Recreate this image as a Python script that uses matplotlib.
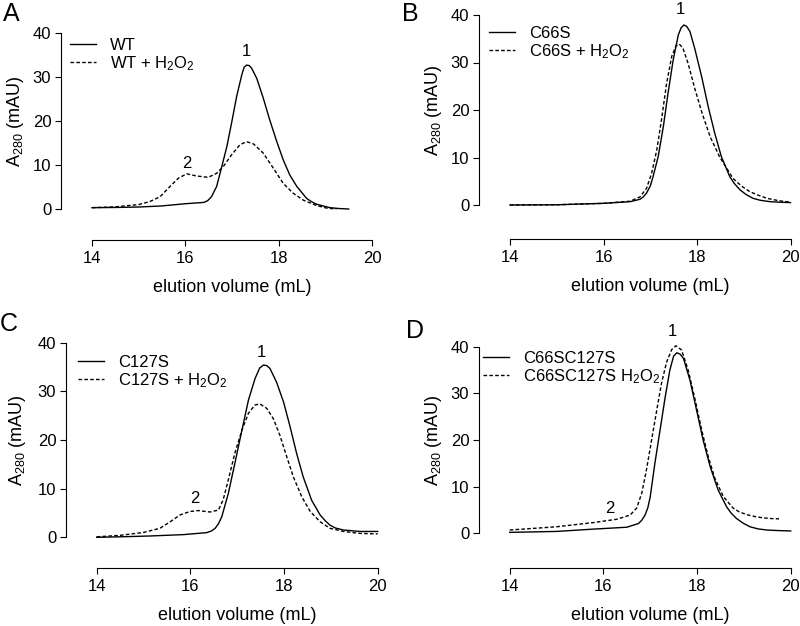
import numpy as np
import matplotlib
matplotlib.use('Agg')
import matplotlib.pyplot as plt
from matplotlib.transforms import blended_transform_factory

plt.rcParams['font.family'] = ['Liberation Sans', 'DejaVu Sans']
plt.rcParams['mathtext.fontset'] = 'custom'
plt.rcParams['mathtext.rm'] = 'Liberation Sans'
plt.rcParams['mathtext.it'] = 'Liberation Sans:italic'

# ---- data (elution volume mL, A280 mAU) ----
a_solid_x = [14.0, 14.5, 15.0, 15.5, 16.0, 16.4, 16.48, 16.56, 16.67, 16.78, 16.89, 16.99, 17.1, 17.21,
             17.26, 17.31, 17.37, 17.42, 17.53, 17.67, 17.81, 17.96, 18.1, 18.24, 18.39, 18.6,
             18.7, 18.81, 18.95, 19.1, 19.3, 19.5]
a_solid_y = [0.3, 0.35, 0.45, 0.7, 1.2, 1.5, 1.9, 2.8, 5.1, 9.6, 14.2, 19.5, 25.6, 30.5,
             32.2, 32.7, 32.6, 32.0, 29.7, 25.2, 20.2, 15.3, 11.1, 7.7, 5.1, 2.4,
             1.7, 1.1, 0.7, 0.3, 0.1, 0.0]
a_dash_x = [14.0, 14.5, 15.0, 15.24, 15.46, 15.67, 15.85, 16.03, 16.24, 16.49, 16.67, 16.81, 16.99,
            17.17, 17.31, 17.46, 17.67, 17.89, 18.1, 18.31, 18.53, 18.81, 19.03, 19.24]
a_dash_y = [0.3, 0.5, 1.0, 1.7, 2.8, 5.1, 7.0, 8.0, 7.5, 7.2, 8.1, 9.6, 12.3,
            14.6, 15.3, 14.8, 12.7, 9.2, 5.8, 3.6, 2.0, 0.8, 0.2, 0.0]

b_solid_x = [14.0, 15.0, 16.0, 16.57, 16.78, 16.85, 16.92, 17.0, 17.06, 17.17, 17.28, 17.38, 17.49,
             17.6, 17.66, 17.72, 17.78, 17.85, 17.95, 18.1, 18.24, 18.38, 18.52, 18.7, 18.8,
             18.92, 19.05, 19.2, 19.35, 19.56, 19.75, 20.0]
b_solid_y = [0.0, 0.05, 0.35, 0.7, 1.2, 1.7, 2.5, 4.0, 5.95, 10.2, 16.5, 23.5, 30.5,
             35.8, 37.3, 37.9, 37.6, 36.5, 33.0, 27.0, 20.7, 15.1, 10.2, 6.0, 4.5,
             3.2, 2.2, 1.4, 1.0, 0.7, 0.6, 0.5]
b_dash_x = [14.0, 15.0, 16.0, 16.57, 16.78, 16.92, 17.03, 17.14, 17.24, 17.35, 17.46, 17.55, 17.62,
            17.7, 17.81, 17.95, 18.11, 18.28, 18.48, 18.77, 18.95, 19.13, 19.3, 19.5, 19.75, 20.0]
b_dash_y = [0.0, 0.05, 0.35, 0.8, 1.7, 3.5, 6.7, 11.6, 17.9, 25.6, 31.3, 33.5, 33.9,
            33.0, 29.8, 24.6, 19.3, 14.4, 10.2, 5.6, 4.0, 2.8, 2.1, 1.4, 0.9, 0.6]

c_solid_x = [14.0, 14.5, 15.14, 15.85, 16.35, 16.45, 16.53, 16.6, 16.67, 16.81, 16.95, 17.1, 17.24,
             17.38, 17.48, 17.56, 17.63, 17.7, 17.84, 17.99, 18.13, 18.27, 18.41, 18.59, 18.77,
             18.88, 18.98, 19.1, 19.27, 19.62, 20.0]
c_solid_y = [0.0, 0.1, 0.27, 0.55, 0.96, 1.3, 1.85, 2.8, 4.2, 9.0, 15.2, 22.0, 28.2,
             32.6, 34.8, 35.4, 35.3, 34.7, 31.9, 27.8, 22.7, 17.2, 12.4, 7.6, 4.6,
             3.4, 2.5, 1.9, 1.5, 1.2, 1.2]
c_dash_x = [14.0, 14.5, 15.0, 15.35, 15.57, 15.78, 15.99, 16.17, 16.42, 16.6, 16.7, 16.81, 16.95,
            17.1, 17.24, 17.38, 17.49, 17.63, 17.77, 17.91, 18.06, 18.2, 18.38, 18.56, 18.77,
            18.98, 19.27, 19.62, 20.0]
c_dash_y = [0.1, 0.4, 1.0, 1.85, 3.2, 4.6, 5.3, 5.5, 5.2, 5.6, 7.7, 11.8, 17.3,
            22.0, 25.5, 27.2, 27.4, 26.5, 24.4, 21.0, 16.5, 12.4, 8.3, 5.3, 3.2,
            1.85, 1.2, 0.8, 0.7]

d_solid_x = [14.0, 15.0, 15.79, 16.5, 16.75, 16.82, 16.89, 16.95, 17.0, 17.1, 17.21, 17.32, 17.42,
             17.5, 17.57, 17.64, 17.71, 17.85, 17.99, 18.13, 18.28, 18.45, 18.63, 18.73, 18.84,
             18.98, 19.13, 19.3, 19.49, 19.7, 20.0]
d_solid_y = [0.2, 0.4, 0.9, 1.3, 2.1, 2.8, 3.9, 5.5, 7.8, 15.0, 22.1, 29.2, 35.0,
             38.0, 38.7, 38.4, 37.5, 32.8, 26.4, 20.0, 14.3, 9.3, 5.7, 4.3, 3.2,
             2.2, 1.4, 0.95, 0.7, 0.6, 0.5]
d_dash_x = [14.0, 15.0, 15.79, 16.28, 16.57, 16.71, 16.82, 16.92, 17.03, 17.14, 17.24, 17.35, 17.46,
            17.55, 17.67, 17.81, 17.96, 18.1, 18.24, 18.38, 18.56, 18.77, 18.9, 19.06, 19.25,
            19.42, 19.6, 19.75]
d_dash_y = [0.7, 1.4, 2.3, 3.0, 3.9, 5.4, 8.6, 13.6, 20.0, 26.4, 32.1, 36.7, 39.4,
            40.2, 39.3, 35.0, 28.6, 22.1, 16.4, 11.8, 7.9, 5.4, 4.6, 4.0, 3.55,
            3.3, 3.15, 3.1]

panels = ['A', 'B', 'C', 'D']
legend_labels = [
    ['WT', 'WT + H$\\mathregular{_2}$O$\\mathregular{_2}$'],
    ['C66S', 'C66S + H$\\mathregular{_2}$O$\\mathregular{_2}$'],
    ['C127S', 'C127S + H$\\mathregular{_2}$O$\\mathregular{_2}$'],
    ['C66SC127S', 'C66SC127S H$\\mathregular{_2}$O$\\mathregular{_2}$'],
]
series = [(a_solid_x, a_solid_y, a_dash_x, a_dash_y),
          (b_solid_x, b_solid_y, b_dash_x, b_dash_y),
          (c_solid_x, c_solid_y, c_dash_x, c_dash_y),
          (d_solid_x, d_solid_y, d_dash_x, d_dash_y)]
peak_labels = [[('1', 17.31, 35.7), ('2', 16.03, 10.4)],
               [('1', 17.65, 41.2)],
               [('1', 17.52, 37.9), ('2', 16.1, 8.0)],
               [('1', 17.48, 43.2), ('2', 16.13, 5.35)]]

# layout in pixels: y-spine x, x=14 px, x=20 px, y=40 px, y=0 px, x-spine y
boxes = [(61, 92, 372, 33, 209, 240),
         (479, 510, 790.5, 15, 205, 239),
         (66, 96.7, 377.7, 342.7, 537.3, 568),
         (479, 509.7, 790.7, 346.7, 533.3, 567.7)]
leg_anchor = [(70, 38), (489, 26), (78, 355), (483, 351)]
letter_pos = [(3, 2), (402, 2), (0, 312), (406, 319)]
ylabel_off = [35, 35, 38, 35]

W, H = 800, 626
fig = plt.figure(figsize=(W / 100, H / 100), dpi=100)

for i in range(4):
    left, x14, x20, y40, y0, bot = boxes[i]
    ax = fig.add_axes([left / W, 1 - bot / H, (x20 - left) / W, (bot - y40) / H])
    sx, sy, dx, dy = series[i]
    ax.plot(sx, sy, color='black', lw=1.0, label=legend_labels[i][0], clip_on=False)
    ax.plot(dx, dy, color='black', lw=1.0, linestyle=(0, (2.6, 1.6)),
            label=legend_labels[i][1], clip_on=False)

    ax.set_xlim(14 - (x14 - left) / (x20 - x14) * 6, 20)
    ax.set_ylim(-(bot - y0) / (y0 - y40) * 40, 40)
    for s in ['top', 'right']:
        ax.spines[s].set_visible(False)
    ax.spines['left'].set_bounds(0, 40)
    ax.spines['bottom'].set_bounds(14, 20)
    ax.spines['left'].set_linewidth(0.8)
    ax.spines['bottom'].set_linewidth(0.8)
    ax.set_xticks([14, 16, 18, 20])
    ax.set_yticks([0, 10, 20, 30, 40])
    ax.tick_params(axis='both', direction='out', length=4, width=0.8, labelsize=12)
    ax.tick_params(axis='x', pad=4)
    ax.tick_params(axis='y', pad=3)

    ax.set_xlabel('elution volume (mL)', fontsize=13)
    ax.set_ylabel('A$\\mathregular{_{280}}$ (mAU)', fontsize=13)
    ax.xaxis.set_label_coords(17, -(bot - y0 + 39) / (y0 - y40) * 40,
                              transform=ax.transData)
    ax.yaxis.set_label_coords(-ylabel_off[i] / (x20 - left), 20,
                              transform=blended_transform_factory(ax.transAxes, ax.transData))

    for txt, px_, py_ in peak_labels[i]:
        ax.text(px_, py_, txt, ha='center', va='center', fontsize=12)

    lx, ly = leg_anchor[i]
    ax.legend(loc='upper left', bbox_to_anchor=(lx / W, 1 - ly / H),
              bbox_transform=fig.transFigure, frameon=False, fontsize=12,
              handlelength=1.55, handletextpad=0.85, labelspacing=0.05,
              borderpad=0, borderaxespad=0)

    fx, fy = letter_pos[i]
    fig.text(fx / W, 1 - fy / H, panels[i], fontsize=18, ha='left', va='top')

fig.savefig('out.png', dpi=100)
